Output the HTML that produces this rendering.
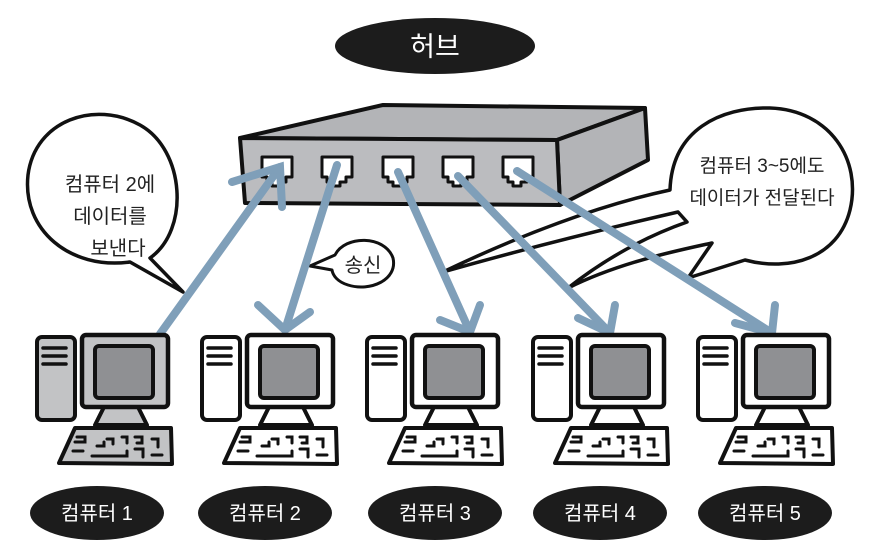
<!DOCTYPE html>
<html><head><meta charset="utf-8"><style>
html,body{margin:0;padding:0;background:#fff;}
svg{display:block;}
text{font-family:"Liberation Sans","Noto Sans CJK KR",sans-serif;}
</style></head><body>
<svg width="869" height="551" viewBox="0 0 869 551" xmlns="http://www.w3.org/2000/svg">
<defs>
<g id="port">
<path d="M0,0 H30 V20 H24 V25 H18 V29 H10 V25 H5 V20 H0 Z" fill="#fff" stroke="#111" stroke-width="3" stroke-linejoin="round"/>
</g>
<g id="pcw">
<rect x="0" y="2" width="38" height="83" rx="5" fill="#fff" stroke="#111" stroke-width="4"/>
<path d="M6,13 H29 M6,21 H29 M6,29 H29" stroke="#111" stroke-width="3.5" stroke-linecap="round"/>
<polygon points="68,70 100,70 110,90 58,90" fill="#fff" stroke="#111" stroke-width="4" stroke-linejoin="round"/>
<rect x="45" y="0" width="86" height="72" rx="4" fill="#fff" stroke="#111" stroke-width="4.5"/>
<rect x="58" y="11" width="58" height="52" rx="4" fill="#8f9093" stroke="#111" stroke-width="4"/>
<polygon points="38,93 134,93 135,129 22,128" fill="#fff" stroke="#111" stroke-width="4" stroke-linejoin="round"/>
<path d="M40,102 h8 v5 h-10 M36,116 h10 M60,111 h7 v-4 M70,104 h6 v5 M85,102 h5 v6 M98,102 h7 v6 h-5 M98,114 h8 v8 M115,104 h6 v8 M115,120 h10 M55,121 h35 v-5" fill="none" stroke="#111" stroke-width="3" stroke-linecap="round"/>
</g>
<g id="pcg">
<rect x="0" y="2" width="38" height="83" rx="5" fill="#c2c3c5" stroke="#111" stroke-width="4"/>
<path d="M6,13 H29 M6,21 H29 M6,29 H29" stroke="#111" stroke-width="3.5" stroke-linecap="round"/>
<polygon points="68,70 100,70 110,90 58,90" fill="#c2c3c5" stroke="#111" stroke-width="4" stroke-linejoin="round"/>
<rect x="45" y="0" width="86" height="72" rx="4" fill="#c2c3c5" stroke="#111" stroke-width="4.5"/>
<rect x="58" y="11" width="58" height="52" rx="4" fill="#8f9093" stroke="#111" stroke-width="4"/>
<polygon points="38,93 134,93 135,129 22,128" fill="#c2c3c5" stroke="#111" stroke-width="4" stroke-linejoin="round"/>
<path d="M40,102 h8 v5 h-10 M36,116 h10 M60,111 h7 v-4 M70,104 h6 v5 M85,102 h5 v6 M98,102 h7 v6 h-5 M98,114 h8 v8 M115,104 h6 v8 M115,120 h10 M55,121 h35 v-5" fill="none" stroke="#111" stroke-width="3" stroke-linecap="round"/>
</g>
</defs>

<!-- title -->
<ellipse cx="435" cy="46" rx="100" ry="28" fill="#1c1c1c"/>
<text x="435" y="56" font-size="27" fill="#fff" text-anchor="middle">허브</text>

<!-- hub -->
<polygon points="240,138 383,105 645,108 557,140" fill="#b3b4b7" stroke="#111" stroke-width="4" stroke-linejoin="round"/>
<polygon points="557,140 645,108 648,160 560,205" fill="#b3b4b7" stroke="#111" stroke-width="4" stroke-linejoin="round"/>
<polygon points="240,138 557,140 560,205 245,203" fill="#bbbcbf" stroke="#111" stroke-width="4" stroke-linejoin="round"/>
<use href="#port" x="262" y="157"/>
<use href="#port" x="322" y="157"/>
<use href="#port" x="383" y="157"/>
<use href="#port" x="443" y="157"/>
<use href="#port" x="503" y="157"/>

<!-- left bubble -->
<path d="M150,258 C190,230 185,150 140,125 C95,100 35,120 28,175 C22,230 70,270 130,262 L183,292 Z" fill="#fff" stroke="#111" stroke-width="3.5" stroke-linejoin="round"/>
<text x="110" y="191" font-size="20" fill="#222" text-anchor="middle">컴퓨터 2에</text>
<text x="110" y="223" font-size="20" fill="#222" text-anchor="middle">데이터를</text>
<text x="118" y="255" font-size="20" fill="#222" text-anchor="middle">보낸다</text>

<!-- send bubble -->
<path d="M335,255 C345,235 385,235 393,258 C398,280 370,292 348,285 C338,282 333,276 332,270 L310,266 Z" fill="#fff" stroke="#111" stroke-width="3" stroke-linejoin="round"/>
<text x="363" y="272" font-size="20" fill="#222" text-anchor="middle">송신</text>

<!-- right bubble -->
<path d="M670,190 C672,130 720,107 770,108 C830,110 862,160 850,210 C838,258 790,272 745,260 L688,278 L712,243 C680,250 620,262 568,288 C610,255 650,235 687,222 L678,212 C600,230 520,250 443,272 C520,235 600,205 670,190 Z" fill="#fff" stroke="#111" stroke-width="3.5" stroke-linejoin="round"/>
<text x="762" y="172" font-size="19" fill="#222" text-anchor="middle">컴퓨터 3~5에도</text>
<text x="762" y="204" font-size="19" fill="#222" text-anchor="middle">데이터가 전달된다</text>

<!-- arrows -->
<g stroke="#7f9fb9" stroke-width="8" stroke-linecap="round" fill="none">
<path d="M160,334 L280,167"/>
<path d="M232,182 L280,167 L282,207"/>
<path d="M337,165 L285,330"/>
<path d="M258,305 L285,330 L310,312"/>
<path d="M398,172 L470,332"/>
<path d="M440,320 L470,332 L480,305"/>
<path d="M458,176 L610,333"/>
<path d="M578,318 L610,333 L615,305"/>
<path d="M517,171 L772,333"/>
<path d="M735,323 L772,333 L775,305"/>
</g>

<!-- computers -->
<use href="#pcg" x="37" y="335"/>
<use href="#pcw" x="202" y="335"/>
<use href="#pcw" x="367" y="335"/>
<use href="#pcw" x="533" y="335"/>
<use href="#pcw" x="698" y="335"/>

<!-- labels -->
<g fill="#1c1c1c">
<ellipse cx="97" cy="513" rx="67" ry="27"/>
<ellipse cx="265" cy="513" rx="67" ry="27"/>
<ellipse cx="435" cy="513" rx="67" ry="27"/>
<ellipse cx="600" cy="513" rx="67" ry="27"/>
<ellipse cx="765" cy="513" rx="67" ry="27"/>
</g>
<g fill="#fff" font-size="20" text-anchor="middle">
<text x="97" y="520">컴퓨터 1</text>
<text x="265" y="520">컴퓨터 2</text>
<text x="435" y="520">컴퓨터 3</text>
<text x="600" y="520">컴퓨터 4</text>
<text x="765" y="520">컴퓨터 5</text>
</g>
</svg>
</body></html>
